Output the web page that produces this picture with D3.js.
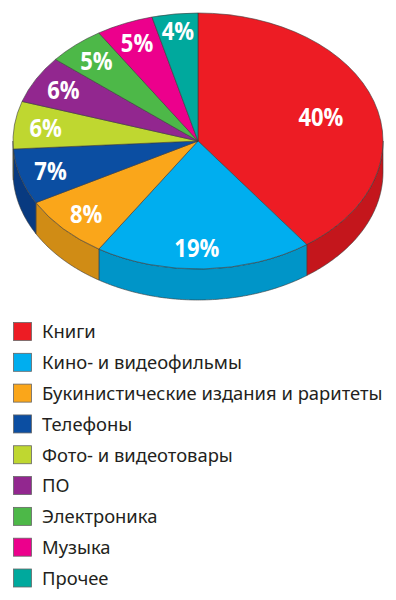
<!DOCTYPE html>
<html lang="ru">
<head>
  <meta charset="UTF-8">
  <script src="https://cdn.jsdelivr.net/npm/d3@7"></script>
  <title>Pie</title>
  <style>
    html, body { margin: 0; padding: 0; background: #fff; }
    svg { display: block; }
  </style>
</head>
<body>
  <svg width="396" height="600" id="chart"></svg>
  <script>
    const categories = ["Книги", "Кино- и видеофильмы", "Букинистические издания и раритеты", "Телефоны", "Фото- и видеотовары", "ПО", "Электроника", "Музыка", "Прочее"];
    const shares = [40, 19, 8, 7, 6, 6, 5, 5, 4];
    const topColors = ["#ed1c24", "#00aeef", "#faa61a", "#0b4ea2", "#bfd730", "#92278f", "#4db848", "#ec008c", "#00a99d"];
    const sideColors = ["#c4161c", "#0095c8", "#d08c15", "#083a80", "#9db028", "#781f76", "#3f983b", "#c30074", "#008b81"];

    const svg = d3.select("#chart");

    const cx = 198, cy = 141, rx = 185, ry = 128, depth = 31;

    const data = categories.map((name, i) => ({ name, share: shares[i], top: topColors[i], side: sideColors[i] }));
    const slices = d3.pie().sort(null).value(d => d.share)(data);

    //unit circle to page
    const scaleX = d3.scaleLinear().domain([-1, 1]).range([cx - rx, cx + rx]);
    const scaleY = d3.scaleLinear().domain([-1, 1]).range([cy - ry, cy + ry]);

    /* SIDE WALL - only the front half of the ellipse shows */
    const wall = d3.area()
      .x(a => scaleX(Math.sin(a)))
      .y0(a => scaleY(-Math.cos(a)))
      .y1(a => scaleY(-Math.cos(a)) + depth);

    slices.forEach(s => {
      const from = Math.max(s.startAngle, Math.PI / 2);
      const to = Math.min(s.endAngle, Math.PI * 1.5);
      if (from >= to) return;
      const angles = d3.range(from, to, 0.01).concat([to]);
      svg.append("path")
        .attr("d", wall(angles))
        .attr("fill", s.data.side)
        .attr("stroke", "#3a3a3a")
        .attr("stroke-width", 0.6);
    });

    /* TOP */
    const arc = d3.arc().innerRadius(0).outerRadius(rx);
    svg.append("g")
      .attr("transform", `translate(${cx},${cy}) scale(1,${ry / rx})`)
      .selectAll("path")
      .data(slices)
      .enter()
      .append("path")
      .attr("d", arc)
      .attr("fill", d => d.data.top)
      .attr("stroke", "#3a3a3a")
      .attr("stroke-width", 0.6)
      .attr("vector-effect", "non-scaling-stroke");

    /* PERCENT LABELS - squeezed a bit, the original face is narrow */
    const labelRadius = d => d.data.share > 30 ? 0.67 : d.data.share < 5 ? 0.865 : 0.83;
    const labelMid = d => (d.startAngle + d.endAngle) / 2;
    const labelNudge = d => d.data.share === 40 ? [5, 3] : d.data.share === 19 ? [-6, 1] : [0, 0]; //big slices sit off the mid line
    svg.selectAll("text.pct")
      .data(slices)
      .enter()
      .append("text")
      .attr("class", "pct")
      .attr("transform", d => {
        const x = scaleX(Math.sin(labelMid(d)) * labelRadius(d)) + labelNudge(d)[0];
        const y = scaleY(-Math.cos(labelMid(d)) * labelRadius(d)) + 9 + labelNudge(d)[1];
        return `translate(${x},${y}) scale(0.88,1)`;
      })
      .attr("text-anchor", "middle")
      .attr("fill", "#fff")
      .style("font-family", "'Open Sans', sans-serif")
      .style("font-weight", "bold")
      .style("font-size", "25px")
      .text(d => d.data.share + "%");

    /* LEGEND */
    const legendY = d3.scalePoint().domain(categories).range([331.5, 578]);
    const legend = svg.selectAll("g.legend")
      .data(data)
      .enter()
      .append("g")
      .attr("class", "legend")
      .attr("transform", d => `translate(13,${legendY(d.name)})`);

    legend.append("rect")
      .attr("x", 0.5)
      .attr("y", -9)
      .attr("width", 18)
      .attr("height", 18)
      .attr("fill", d => d.top)
      .attr("stroke", "#666")
      .attr("stroke-width", 0.8);

    legend.append("text")
      .attr("x", 29)
      .attr("y", 6.8)
      .attr("fill", "#231f20")
      .style("font-family", "'Noto Sans', sans-serif")
      .style("font-size", "18.4px")
      .text(d => d.name);
  </script>
</body>
</html>
